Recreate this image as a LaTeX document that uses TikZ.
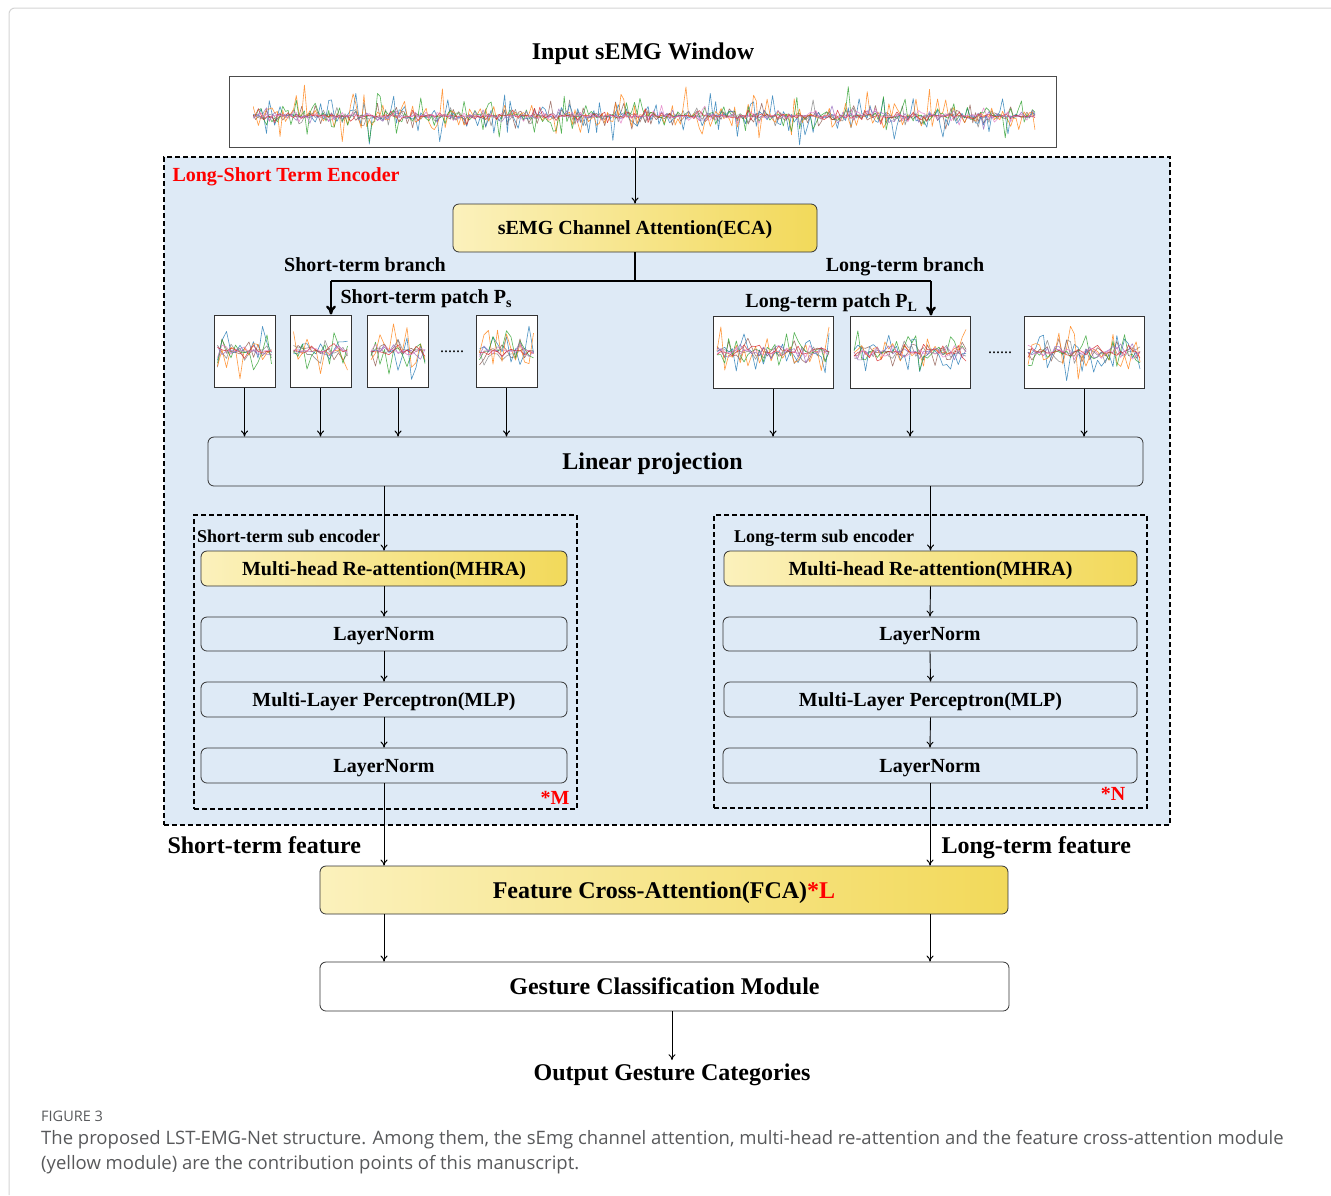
\documentclass[tikz,border=0pt]{standalone}
\usepackage{fontspec}
\setmainfont{Liberation Serif}
\newfontfamily\capfont{Open Sans}
\usetikzlibrary{arrows.meta}

\definecolor{encblue}{HTML}{DEEAF6}
\definecolor{ylight}{HTML}{FBF1BC}
\definecolor{ydark}{HTML}{F2D95A}
\definecolor{capgrey}{HTML}{58595B}
\definecolor{framegrey}{HTML}{D4D4D4}
\definecolor{emgblue}{HTML}{1F77B4}
\definecolor{emgorange}{HTML}{FF7F0E}
\definecolor{emggreen}{HTML}{2CA02C}
\definecolor{emgred}{HTML}{D62728}
\definecolor{emgpurple}{HTML}{9467BD}
\definecolor{emgbrown}{HTML}{8C564B}
\definecolor{emgpink}{HTML}{E377C2}
\definecolor{emggrey}{HTML}{7F7F7F}

\newcommand{\pxfont}[1]{\fontsize{#1}{#1}\selectfont}
% x0, x1, ymid, amplitude, samples, random term
\newcommand{\emgwave}[6]{%
  \foreach \c/\s in {emgbrown/.55,emggrey/.5,emgblue/1,emgorange/1,emggreen/.85,emgpurple/.35,emgred/.3,emgpink/.3}{%
    \draw[\c, opacity=.8, line width=.6pt, line join=round]
      plot[domain=#1:#2, samples=#5] (\x, {#3 + #4*\s*#6});
  }}

\begin{document}
\begin{tikzpicture}[x=1pt, y=-1pt, >={To[length=6pt,width=7pt]}]
    \tikzset{box/.style={draw=black!80, line width=0.8pt, rounded corners=6pt, fill=encblue, text depth=0pt, font={\bfseries\pxfont{20}}},
             ybox/.style={box, left color=ylight, right color=ydark},
             wbox/.style={box, fill=white, font={\bfseries\pxfont{24}}},
             patch/.style={draw=black!80, line width=1pt, fill=white},
             dashbox/.style={draw, line width=1.6pt, dash pattern=on 5pt off 3pt},
             lbl/.style={text depth=0pt, font={\bfseries\pxfont{20}}},
             biglbl/.style={text depth=0pt, font={\bfseries\pxfont{24}}},
             captext/.style={text=capgrey, anchor=west, inner sep=0pt, font={\capfont\pxfont{18.5}}},
             arr/.style={->, line width=0.9pt},
             thickarr/.style={-{To[length=9pt,width=10pt]}, line width=2.4pt}}
    \pgfmathsetseed{7}
    \useasboundingbox (0,0) rectangle (1331,1195);

    % Page frame
    \draw[framegrey, line width=1pt, rounded corners=6pt] (1331,8) -- (9,8) -- (9,1195);

    % Input window
    \node[biglbl] (title) at (643,51) {Input sEMG Window};
    \node[draw=black!70, line width=1pt, fill=white, minimum width=827pt, minimum height=71pt] (input) at (642.5,111.5) {};
    \begin{scope}
      \clip (253,79) rectangle (1035,146);
      \emgwave{253}{1035}{116}{42}{290}{rand*rnd*rnd}
    \end{scope}

    % Long-short term encoder
    \node[dashbox, fill=encblue, minimum width=1006pt, minimum height=668pt] (encoder) at (667,491) {};
    \node[lbl, text=red, anchor=west] (enclabel) at (169,175) {Long-Short Term Encoder};

    % Channel attention and branches
    \node[ybox, minimum width=364pt, minimum height=48pt] (eca) at (635,228) {sEMG Channel Attention(ECA)};
    \draw[arr] (eca.north |- input.south) -- (eca.north);
    \coordinate (brS) at (331,281);
    \coordinate (brL) at (931,281);
    \node[lbl] (sbranch) at (365,265) {Short-term branch};
    \node[lbl] (lbranch) at (905,265) {Long-term branch};
    \node[lbl, anchor=west] (spatch) at (337,297) {Short-term patch P\textsubscript{s}};
    \node[lbl, anchor=east] (lpatch) at (921,301) {Long-term patch P\textsubscript{L}};

    % Short-term patches
    \foreach \n/\cx in {sp1/244.5, sp2/320.5, sp3/398, sp4/506.5}{
      \node[patch, minimum width=61pt, minimum height=72pt] (\n) at (\cx,351) {};
      \pgfmathsetmacro{\xa}{\cx-27}
      \pgfmathsetmacro{\xb}{\cx+27}
      \emgwave{\xa}{\xb}{351}{31}{13}{rand*rnd}
    }
    \node[font=\pxfont{16}] (sdots) at (452,352) {......};

    % Long-term patches
    \foreach \n/\cx in {lp1/773, lp2/910, lp3/1084}{
      \node[patch, minimum width=120pt, minimum height=72pt] (\n) at (\cx,352) {};
      \pgfmathsetmacro{\xa}{\cx-56}
      \pgfmathsetmacro{\xb}{\cx+56}
      \emgwave{\xa}{\xb}{352}{31}{30}{rand*rnd}
    }
    \node[font=\pxfont{16}] (ldots) at (1000,353) {......};

    % Branch connectors
    \draw[line width=2.4pt] (eca.south) -- (eca.south |- brS);
    \draw[line width=2.4pt] (brS) -- (brL);
    \draw[thickarr] (brS) -- (brS |- sp2.north);
    \draw[thickarr] (brL) -- (brL |- lp2.north);

    % Linear projection
    \node[box, font={\bfseries\pxfont{24}}, minimum width=935pt, minimum height=49pt] (linproj) at (675.5,461.5) {\hspace*{-46pt}Linear projection};
    \foreach \n in {sp1,sp2,sp3,sp4,lp1,lp2,lp3}
      \draw[arr] (\n.south) -- (\n.south |- linproj.north);

    % Short-term sub encoder
    \node[dashbox, minimum width=383pt, minimum height=294pt] (subS) at (385.5,662) {};
    \node[font={\bfseries\pxfont{18}}, anchor=west, inner sep=1pt, text depth=0pt] (subSlabel) at (196,536) {Short-term sub encoder};
    \node[ybox, minimum width=366pt, minimum height=35pt] (mhraS) at (384,568.5) {Multi-head Re-attention(MHRA)};
    \node[box, minimum width=366pt, minimum height=34pt] (lnS1) at (384,634) {LayerNorm};
    \node[box, minimum width=366pt, minimum height=35pt] (mlpS) at (384,699.5) {Multi-Layer Perceptron(MLP)};
    \node[box, minimum width=366pt, minimum height=35pt] (lnS2) at (384,765.5) {LayerNorm};
    \node[lbl, text=red] (repM) at (555,798) {*M};

    % Long-term sub encoder
    \node[dashbox, minimum width=433pt, minimum height=293pt] (subL) at (930.5,661.5) {};
    \node[font={\bfseries\pxfont{18}}, anchor=west, inner sep=1pt, text depth=0pt] (subLlabel) at (733,536) {Long-term sub encoder};
    \node[ybox, minimum width=413pt, minimum height=35pt] (mhraL) at (930.5,568.5) {Multi-head Re-attention(MHRA)};
    \node[box, minimum width=414pt, minimum height=34pt] (lnL1) at (930,634) {LayerNorm};
    \node[box, minimum width=413pt, minimum height=35pt] (mlpL) at (930.5,699.5) {Multi-Layer Perceptron(MLP)};
    \node[box, minimum width=414pt, minimum height=35pt] (lnL2) at (930,765.5) {LayerNorm};
    \node[lbl, text=red] (repN) at (1113,794) {*N};

    % Sub encoder connectors
    \draw[arr] (linproj.south -| mhraS.north) -- (mhraS.north);
    \draw[arr] (linproj.south -| mhraL.north) -- (mhraL.north);
    \foreach \a/\b in {mhraS/lnS1, lnS1/mlpS, mlpS/lnS2, mhraL/lnL1, lnL1/mlpL, mlpL/lnL2}
      \draw[arr] (\a.south) -- (\b.north);

    % Feature cross-attention and classifier
    \node[ybox, font={\bfseries\pxfont{24}}, minimum width=688pt, minimum height=48pt] (fca) at (664,890) {Feature Cross-Attention(FCA)\textcolor{red}{*L}};
    \node[wbox, minimum width=689pt, minimum height=49pt] (gcm) at (664.5,986.5) {Gesture Classification Module};
    \node[biglbl] (output) at (672,1072) {Output Gesture Categories};
    \node[biglbl, anchor=west] (sfeat) at (164,845) {Short-term feature};
    \node[biglbl, anchor=west] (lfeat) at (938,845) {Long-term feature};
    \draw[arr] (lnS2.south) -- (lnS2.south |- fca.north);
    \draw[arr] (lnL2.south) -- (lnL2.south |- fca.north);
    \draw[arr] (fca.south -| lnS2.south) -- (gcm.north -| lnS2.south);
    \draw[arr] (fca.south -| lnL2.south) -- (gcm.north -| lnL2.south);
    \draw[arr] (gcm.south -| output.north) -- (output.north);

    % Caption
    \node[captext, font={\capfont\pxfont{14.5}}] (figno) at (41,1116) {FIGURE 3};
    \node[captext] (cap1) at (41,1140) {The proposed LST-EMG-Net structure. Among them, the sEmg channel attention, multi-head re-attention and the feature cross-attention module};
    \node[captext] (cap2) at (41,1165) {(yellow module) are the contribution points of this manuscript.};
\end{tikzpicture}
\end{document}
